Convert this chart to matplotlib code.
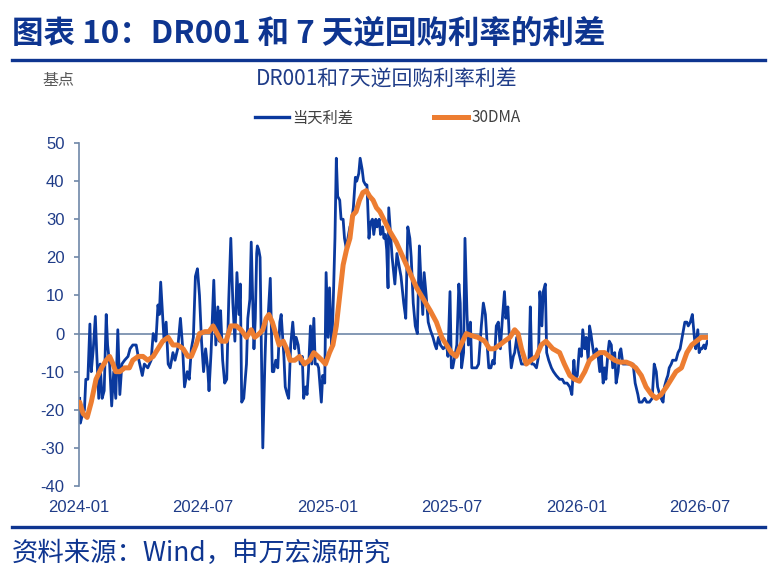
import matplotlib
matplotlib.use("Agg")
import matplotlib.pyplot as plt
import matplotlib.dates as mdates
from matplotlib.lines import Line2D
from matplotlib.font_manager import FontProperties
import pandas as pd

plt.rcParams["axes.unicode_minus"] = False

# ---------------- data ----------------
spread_dates = [
    "2024-01-02", "2024-01-03", "2024-01-05", "2024-01-09", "2024-01-11", "2024-01-14", "2024-01-17", "2024-01-19",
    "2024-01-22", "2024-01-25", "2024-01-27", "2024-01-30", "2024-02-01", "2024-02-04", "2024-02-07", "2024-02-10",
    "2024-02-12", "2024-02-15", "2024-02-18", "2024-02-21", "2024-02-24", "2024-02-27", "2024-03-01", "2024-03-04",
    "2024-03-08", "2024-03-13", "2024-03-16", "2024-03-20", "2024-03-25", "2024-03-29", "2024-04-03", "2024-04-06",
    "2024-04-11", "2024-04-16", "2024-04-19", "2024-04-23", "2024-04-26", "2024-04-28", "2024-04-30", "2024-05-03",
    "2024-05-05", "2024-05-08", "2024-05-11", "2024-05-14", "2024-05-18", "2024-05-21", "2024-05-25", "2024-05-29",
    "2024-06-01", "2024-06-04", "2024-06-08", "2024-06-11", "2024-06-14", "2024-06-17", "2024-06-20", "2024-06-23",
    "2024-06-26", "2024-06-29", "2024-07-02", "2024-07-05", "2024-07-08", "2024-07-10", "2024-07-13", "2024-07-17",
    "2024-07-20", "2024-07-23", "2024-07-25", "2024-07-27", "2024-07-30", "2024-08-02", "2024-08-05", "2024-08-08",
    "2024-08-11", "2024-08-14", "2024-08-17", "2024-08-20", "2024-08-23", "2024-08-25", "2024-08-27", "2024-08-30",
    "2024-09-03", "2024-09-05", "2024-09-08", "2024-09-10", "2024-09-12", "2024-09-14", "2024-09-16", "2024-09-18",
    "2024-09-19", "2024-09-21", "2024-09-23", "2024-09-25", "2024-09-27", "2024-09-30", "2024-10-02", "2024-10-05",
    "2024-10-08", "2024-10-11", "2024-10-13", "2024-10-16", "2024-10-19", "2024-10-22", "2024-10-24", "2024-10-28",
    "2024-10-30", "2024-11-02", "2024-11-04", "2024-11-07", "2024-11-10", "2024-11-13", "2024-11-15", "2024-11-18",
    "2024-11-21", "2024-11-24", "2024-11-26", "2024-11-29", "2024-12-01", "2024-12-03", "2024-12-06", "2024-12-08",
    "2024-12-11", "2024-12-13", "2024-12-16", "2024-12-18", "2024-12-22", "2024-12-24", "2024-12-27", "2024-12-29",
    "2025-01-01", "2025-01-03", "2025-01-06", "2025-01-08", "2025-01-11", "2025-01-13", "2025-01-15", "2025-01-18",
    "2025-01-20", "2025-01-23", "2025-01-25", "2025-01-28", "2025-01-30", "2025-02-02", "2025-02-04", "2025-02-07",
    "2025-02-10", "2025-02-12", "2025-02-15", "2025-02-17", "2025-02-20", "2025-02-22", "2025-02-25", "2025-02-27",
    "2025-03-02", "2025-03-04", "2025-03-07", "2025-03-09", "2025-03-12", "2025-03-14", "2025-03-17", "2025-03-19",
    "2025-03-22", "2025-03-24", "2025-03-26", "2025-03-28", "2025-03-30", "2025-03-31", "2025-04-05", "2025-04-09",
    "2025-04-12", "2025-04-15", "2025-04-18", "2025-04-22", "2025-04-25", "2025-04-28", "2025-05-01", "2025-05-03",
    "2025-05-06", "2025-05-09", "2025-05-12", "2025-05-15", "2025-05-17", "2025-05-20", "2025-05-22", "2025-05-25",
    "2025-05-28", "2025-05-31", "2025-06-02", "2025-06-04", "2025-06-07", "2025-06-09", "2025-06-12", "2025-06-15",
    "2025-06-19", "2025-06-24", "2025-06-26", "2025-06-29", "2025-07-01", "2025-07-03", "2025-07-06", "2025-07-09",
    "2025-07-12", "2025-07-14", "2025-07-16", "2025-07-19", "2025-07-21", "2025-07-24", "2025-07-26", "2025-07-29",
    "2025-07-31", "2025-08-04", "2025-08-07", "2025-08-10", "2025-08-14", "2025-08-17", "2025-08-20", "2025-08-23",
    "2025-08-25", "2025-08-28", "2025-08-31", "2025-09-02", "2025-09-05", "2025-09-08", "2025-09-11", "2025-09-14",
    "2025-09-17", "2025-09-19", "2025-09-22", "2025-09-25", "2025-09-27", "2025-09-30", "2025-10-02", "2025-10-05",
    "2025-10-08", "2025-10-12", "2025-10-15", "2025-10-19", "2025-10-23", "2025-10-25", "2025-10-27", "2025-10-30",
    "2025-11-03", "2025-11-06", "2025-11-08", "2025-11-11", "2025-11-13", "2025-11-16", "2025-11-18", "2025-11-21",
    "2025-11-25", "2025-11-28", "2025-12-02", "2025-12-07", "2025-12-11", "2025-12-14", "2025-12-18", "2025-12-22",
    "2025-12-25", "2025-12-28", "2025-12-30", "2026-01-02", "2026-01-05", "2026-01-08", "2026-01-10", "2026-01-13",
    "2026-01-15", "2026-01-18", "2026-01-20", "2026-01-22", "2026-01-25", "2026-01-27", "2026-01-30", "2026-02-01",
    "2026-02-04", "2026-02-06", "2026-02-09", "2026-02-11", "2026-02-13", "2026-02-16", "2026-02-18", "2026-02-21",
    "2026-02-23", "2026-02-26", "2026-02-28", "2026-03-03", "2026-03-05", "2026-03-07", "2026-03-10", "2026-03-15",
    "2026-03-20", "2026-03-25", "2026-03-28", "2026-04-01", "2026-04-03", "2026-04-07", "2026-04-11", "2026-04-14",
    "2026-04-18", "2026-04-22", "2026-04-25", "2026-04-28", "2026-04-30", "2026-05-03", "2026-05-05", "2026-05-08",
    "2026-05-10", "2026-05-13", "2026-05-15", "2026-05-17", "2026-05-20", "2026-05-22", "2026-05-25", "2026-05-27",
    "2026-05-30", "2026-06-02", "2026-06-04", "2026-06-07", "2026-06-09", "2026-06-12", "2026-06-14", "2026-06-17",
    "2026-06-20", "2026-06-23", "2026-06-25", "2026-06-28", "2026-06-30", "2026-07-02", "2026-07-04", "2026-07-07",
    "2026-07-09", "2026-07-12", "2026-07-13",
]
spread_values = [
    -17, -23.5, -22, -20, -12, -12, 2.5, -10,
    -4, 4.5, -5, -17, -8, -17, -15, 5,
    -3, -8, -19, -10, -17, 1, -16, -8,
    -7, -6, -4, -3, -3, -7, -11, -8,
    -9, -7, 0, -2, 7.5, 5, 13.5, 4,
    -2, 3, -8, -9, -5, -7, -4, 4,
    -3, -14, -10, -12, -4, -1, 15, 17,
    10, -2, -10, -4, -9, -15, -5, 14,
    -3, 7, -2, 6, -7, -13, -12, 9,
    25, 8, -2, 16, 5, 13, -18, -17,
    -8, 4, 9, 24, 10, -4, 4, 21,
    23, 22, 20, -5, -30, -8, 3, 5,
    14.5, -10, -10, -7, -9, 3, 5, -6,
    -14, -16, -17, -3, 3, -4, -1, -3,
    -8, -6, -17, -14, -16, -10, 2, -8,
    4, -8, -8, -9, -18, -11, -13, 16,
    -1, 12, -3, 5, 25, 46, 36, 35,
    30, 30, 25, 22, 25, 28, 29, 33,
    41, 40, 42, 46, 43, 40, 39, 39,
    25, 29, 30, 26, 30, 28, 30, 26,
    28, 25, 26, 22, 12, 33, 20, 13,
    21, 18, 15, 8, 4, 28, 25, 20,
    8, 2, 0, 23, 15, 5, 16, 10,
    3, 1, 0, -1, -3, -4, -1, -3,
    -4, -3, -6, 11, -9, -9, -6, -3,
    13, 8, -9, -5, 25, 5, -3, 3,
    -9, -9, -9, -8, 2, 8, 5, -4,
    -9, -9, -7, -8, 2, 3, -4, 4,
    11, 4, 7, -4, -9, -6, -5, -1,
    -5, -8, -8, -8, -7, 7, -8, -8,
    -9, -6, 11, 2, 11, 13, -5, -7,
    -9, -10, -11, -12, -12, -13, -13, -14,
    -16, -7, -12, -11, -4, -6, 1, -4,
    -1, -7, 2, 0, -4, -6, -4, -5,
    -10, -5, -13, -9, -12, -5, -2, -3,
    -9, -5, -13, -10, -5, -4, -8, -8,
    -8, -8, -13, -16, -18, -18, -17, -18,
    -18, -17, -8, -10, -14, -16, -17, -18,
    -14, -12, -11, -9, -8, -7, -7, -7,
    -5, -4, -2, 1, 3, 3, 2, 3,
    5, -1, -4, 1, -5, -4, -4, -3,
    -4, -2, -2,
]

dma_dates = [
    "2024-01-02", "2024-01-07", "2024-01-13", "2024-01-19", "2024-01-26", "2024-02-03", "2024-02-10", "2024-02-15",
    "2024-02-20", "2024-02-24", "2024-03-01", "2024-03-08", "2024-03-15", "2024-03-20", "2024-03-28", "2024-04-04",
    "2024-04-11", "2024-04-19", "2024-04-26", "2024-05-03", "2024-05-11", "2024-05-18", "2024-05-25", "2024-06-02",
    "2024-06-09", "2024-06-14", "2024-06-21", "2024-06-26", "2024-07-04", "2024-07-10", "2024-07-16", "2024-07-22",
    "2024-07-28", "2024-08-04", "2024-08-11", "2024-08-19", "2024-08-26", "2024-09-03", "2024-09-10", "2024-09-15",
    "2024-09-22", "2024-09-27", "2024-10-02", "2024-10-06", "2024-10-11", "2024-10-16", "2024-10-21", "2024-10-27",
    "2024-11-01", "2024-11-06", "2024-11-13", "2024-11-20", "2024-11-27", "2024-12-05", "2024-12-11", "2024-12-17",
    "2024-12-23", "2024-12-28", "2025-01-03", "2025-01-08", "2025-01-13", "2025-01-18", "2025-01-23", "2025-01-28",
    "2025-02-02", "2025-02-06", "2025-02-11", "2025-02-16", "2025-02-21", "2025-02-26", "2025-03-03", "2025-03-08",
    "2025-03-13", "2025-03-18", "2025-04-01", "2025-04-11", "2025-04-21", "2025-05-01", "2025-05-11", "2025-05-21",
    "2025-05-31", "2025-06-09", "2025-06-17", "2025-06-24", "2025-07-01", "2025-07-08", "2025-07-15", "2025-07-23",
    "2025-07-30", "2025-08-09", "2025-08-19", "2025-08-26", "2025-09-02", "2025-09-10", "2025-09-17", "2025-09-25",
    "2025-10-02", "2025-10-07", "2025-10-12", "2025-10-19", "2025-10-26", "2025-11-03", "2025-11-10", "2025-11-17",
    "2025-11-22", "2025-11-27", "2025-12-07", "2025-12-14", "2025-12-22", "2025-12-29", "2026-01-05", "2026-01-13",
    "2026-01-20", "2026-01-27", "2026-02-04", "2026-02-11", "2026-02-18", "2026-02-26", "2026-03-05", "2026-03-15",
    "2026-03-22", "2026-03-29", "2026-04-06", "2026-04-13", "2026-04-21", "2026-04-28", "2026-05-05", "2026-05-13",
    "2026-05-20", "2026-05-27", "2026-06-04", "2026-06-12", "2026-06-19", "2026-06-26", "2026-07-03", "2026-07-10",
    "2026-07-13",
]
dma_values = [
    -18, -21, -22, -18, -12, -9, -7, -6,
    -8, -10, -10, -9, -9, -7, -6, -6,
    -7, -6, -4, -2, -1, -3, -3, -4,
    -6, -6, -3, 0, 0.5, 0.5, 2, 0,
    -2, -2, 2, 2, 1, -1, 1, -1,
    0, 1, 4, 5, 3, 0, -3, -2,
    -4, -7, -7, -6, -8, -7, -5, -6,
    -7, -8, -5, -3, 2, 10, 18, 22,
    25, 31, 32, 35, 37, 37.5, 36, 35,
    33, 32, 27, 24, 20, 16, 12, 9,
    6, 3, -1, -3, -5, -6, -3, 0,
    -0.5, -1, -2, -4, -4, -3, -2, -1,
    1, 0, -4, -8, -7, -6, -3, -2,
    -3, -4, -5, -8, -11, -12, -12.5, -10,
    -7, -6, -5, -5, -6, -7, -7.5, -7.5,
    -8, -9, -11, -14, -16, -17, -16, -14,
    -12, -10, -9, -5, -3, -2, -1, -1,
    -1,
]

series_labels = ["当天利差", "30DMA"]
y_ticks = [-40, -30, -20, -10, 0, 10, 20, 30, 40, 50]
x_tick_dates = ["2024-01-01", "2024-07-01", "2025-01-01", "2025-07-01", "2026-01-01", "2026-07-01"]

# ---------------- styles ----------------
CJK = ["Noto Sans CJK SC", "DejaVu Sans"]
NAVY = "#0E3590"
BLUE = "#0A399E"
ORANGE = "#ED7D31"
AXIS = "#7088A8"
TICK_TXT = "#1F3C88"

W, H = 771, 573
fig = plt.figure(figsize=(W / 100, H / 100), dpi=100)

def fx(px):
    return px / W

def fy(py):
    return 1 - py / H

ax = fig.add_axes([fx(79), fy(486), fx(708) - fx(79), fy(143) - fy(486)])

sd = pd.to_datetime(spread_dates)
md = pd.to_datetime(dma_dates)

ax.axhline(0, color=AXIS, lw=1.2, zorder=1)
l1, = ax.plot(sd, spread_values, color=BLUE, lw=2.0, zorder=2, solid_joinstyle="round")
l2, = ax.plot(md, dma_values, color=ORANGE, lw=3.6, zorder=3, solid_joinstyle="round",
              solid_capstyle="round")

ax.set_ylim(-40, 50)
ax.set_xlim(pd.Timestamp("2024-01-01"), sd[-1])
ax.set_yticks(y_ticks)
ax.set_xticks(pd.to_datetime(x_tick_dates))
ax.xaxis.set_major_formatter(mdates.DateFormatter("%Y-%m"))

for s in ["top", "right", "bottom"]:
    ax.spines[s].set_visible(False)
ax.spines["left"].set_color(AXIS)
ax.spines["left"].set_linewidth(1.2)
ax.tick_params(axis="y", direction="out", length=3.5, width=1.2, color=AXIS, pad=7,
               labelsize=12, labelcolor=TICK_TXT)
ax.tick_params(axis="x", length=0, pad=10, labelsize=12, labelcolor=TICK_TXT)
for lab in ax.get_xticklabels() + ax.get_yticklabels():
    lab.set_fontfamily(["Liberation Sans", "DejaVu Sans"])

# title block
fig.text(fx(12), fy(33), "图表 10：DR001 和 7 天逆回购利率的利差", family=CJK, fontsize=22.7,
         fontweight="bold", color=NAVY, va="center", ha="left")
fig.add_artist(Line2D([fx(12), fx(765)], [fy(60), fy(60)], color=NAVY, lw=2.4))
fig.text(fx(42), fy(80), "基点", family=CJK, fontsize=11.5, color="#595959", va="center", ha="left")
fig.text(fx(387), fy(80), "DR001和7天逆回购利率利差", family=CJK, fontsize=15, color=TICK_TXT,
         va="center", ha="center")

leg = fig.legend([Line2D([], [], color=BLUE, lw=2.4), Line2D([], [], color=ORANGE, lw=3.6)],
                 series_labels, loc="center", bbox_to_anchor=(fx(388), fy(118)), ncol=2,
                 frameon=False, handlelength=2.2, handletextpad=0.25, columnspacing=5.3,
                 prop=FontProperties(family=CJK, size=11))
for t in leg.get_texts():
    t.set_color("#404040")

# footer
fig.add_artist(Line2D([fx(12), fx(765)], [fy(527), fy(527)], color=NAVY, lw=2.4))
fig.text(fx(12), fy(553), "资料来源：Wind，申万宏源研究", family=CJK, fontsize=19, color=NAVY,
         va="center", ha="left")

fig.savefig("out.png", dpi=100)
